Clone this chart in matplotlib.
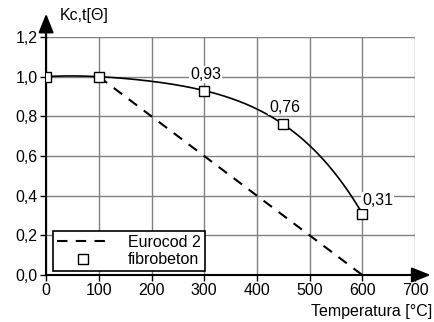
import numpy as np
import matplotlib.pyplot as plt

plt.rcParams['font.family'] = ['Liberation Sans', 'DejaVu Sans']
plt.rcParams['font.size'] = 11.5

# Eurocod 2 reduction line
ec_t = [100, 600]
ec_k = [1.0, 0.0]

# fibrobeton test points
fb_t = [0, 100, 300, 450, 600]
fb_k = [1.0, 1.0, 0.93, 0.76, 0.31]
fb_labels = ['', '', '0,93', '0,76', '0,31']

xticks = [0, 100, 200, 300, 400, 500, 600, 700]
yticks = [0.0, 0.2, 0.4, 0.6, 0.8, 1.0, 1.2]

fig = plt.figure(figsize=(4.35, 3.22), dpi=100)
ax = fig.add_axes([0.106, 0.146, 0.848, 0.739])

# smooth curve through the test points
coef = np.polyfit(fb_t, fb_k, 4)
tt = np.linspace(0, 600, 200)
ax.plot(tt, np.polyval(coef, tt), color='black', lw=1.2, zorder=3)

ax.plot(ec_t, ec_k, color='black', lw=1.5, ls=(0, (5, 4)), label='Eurocod 2', zorder=3)
ax.plot(fb_t, fb_k, ls='none', marker='s', ms=6.5, mfc='white', mec='black', mew=1.0,
        label='fibrobeton', zorder=4)

offs = {'0,93': (1, 6), '0,76': (1, 7), '0,31': (11, 4)}
for t, k, s in zip(fb_t, fb_k, fb_labels):
    if s:
        ax.annotate(s, (t, k), xytext=offs[s], textcoords='offset points', ha='center',
                    va='bottom', zorder=5,
                    bbox=dict(boxstyle='square,pad=0.05', fc='white', ec='none'))

ax.set_xlim(0, 700)
ax.set_ylim(0, 1.2)
ax.set_xticks(xticks)
ax.set_yticks(yticks)
ax.set_yticklabels([f'{v:.1f}'.replace('.', ',') for v in yticks])
ax.grid(True, color='#808080', lw=1.0)
ax.set_axisbelow(True)
ax.tick_params(length=4, width=1, direction='out', pad=2)
for s in ['top', 'right']:
    ax.spines[s].set_visible(False)
for s in ['left', 'bottom']:
    ax.spines[s].set_linewidth(1.5)

# axis arrows
ax.annotate('', xy=(1.05, 0), xytext=(0.98, 0), xycoords='axes fraction',
            arrowprops=dict(arrowstyle='-|>,head_length=1.0,head_width=0.4', color='black', lw=1.5),
            annotation_clip=False)
ax.annotate('', xy=(0, 1.11), xytext=(0, 0.98), xycoords='axes fraction',
            arrowprops=dict(arrowstyle='-|>,head_length=1.0,head_width=0.4', color='black', lw=1.5),
            annotation_clip=False)

ax.text(0.038, 1.09, 'Kc,t[Θ]', transform=ax.transAxes, ha='left', va='center')
ax.text(1.046, -0.155, 'Temperatura [°C]', transform=ax.transAxes, ha='right', va='center')

leg = ax.legend(loc='lower left', bbox_to_anchor=(0.02, 0.015), fancybox=False,
                edgecolor='black', framealpha=1, borderpad=0.25, handlelength=3.2,
                handletextpad=1.2, labelspacing=0.15, borderaxespad=0)
leg.get_frame().set_linewidth(1.2)

fig.savefig('out.png', dpi=100)
